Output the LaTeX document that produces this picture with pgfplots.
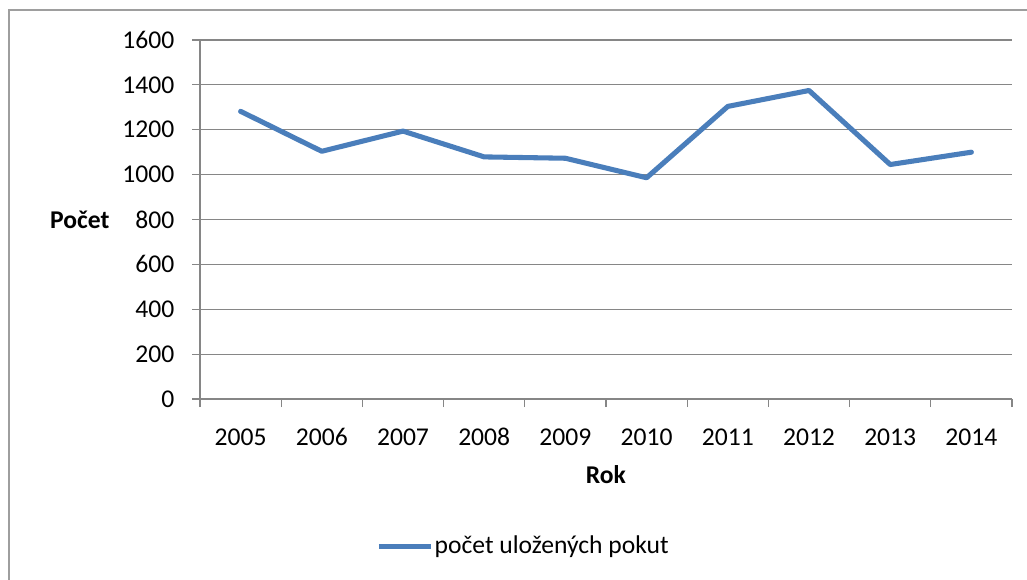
\documentclass[border=0pt]{standalone}
\usepackage{pgfplots}
\pgfplotsset{compat=1.18}
\usepackage{fontspec}
\setmainfont{Carlito}
\definecolor{serie}{HTML}{4A7EBB}
\definecolor{gridc}{HTML}{868686}
\begin{document}
\fontsize{19.2pt}{23pt}\selectfont
\begin{tikzpicture}
\path[use as bounding box] (0pt,0pt) rectangle (770.25pt,-435pt);
\clip (0pt,0pt) rectangle (770.25pt,-435pt);
\draw[gridc!80, line width=1.2pt] (6.75pt,-800pt) -- (6.75pt,-7.5pt) -- (900pt,-7.5pt);
\begin{axis}[
  at={(150pt,-299.25pt)}, anchor=south west,
  scale only axis, width=609pt, height=269.25pt,
  xmin=-0.5, xmax=9.5, ymin=0, ymax=1600,
  axis x line*=bottom, axis y line*=left,
  axis line style={gridc, line width=0.9pt, -},
  ytick={0,200,...,1600},
  ymajorgrids, major grid style={gridc, line width=0.9pt},
  xtick={0,...,9}, xticklabels={2005,2006,2007,2008,2009,2010,2011,2012,2013,2014},
  minor xtick={-0.5,0.5,...,9.5},
  tick align=outside,
  major tick length=6pt, minor tick length=6pt,
  tick style={gridc, line width=0.9pt},
  major x tick style={draw=none},
  /pgf/number format/1000 sep={},
  /pgf/number format/assume math mode=true,
  yticklabel style={anchor=east, inner sep=0pt, xshift=-13pt},
  xticklabel style={anchor=center, inner sep=0pt, yshift=-22.5pt},
  xlabel={\textbf{Rok}},
  every axis x label/.style={at={(axis description cs:0.5,-0.2117)}, anchor=center},
  ylabel={\textbf{Počet}},
  every axis y label/.style={at={(axis description cs:-0.148,0.4986)}, anchor=center},
  legend style={at={(axis description cs:0.398,-0.412)}, anchor=center, draw=none, fill=none,
    nodes={inner sep=1pt}},
  legend image code/.code={\draw[#1, line cap=butt] (0pt,0pt) -- (39pt,0pt);},
]
\addplot[serie, line width=3.8pt, line join=round, line cap=round] coordinates {
(0,1282) (1,1104) (2,1194) (3,1079) (4,1073) (5,986) (6,1304) (7,1375) (8,1045) (9,1100)};
\addlegendentry{počet uložených pokut}
\end{axis}
\end{tikzpicture}
\end{document}
